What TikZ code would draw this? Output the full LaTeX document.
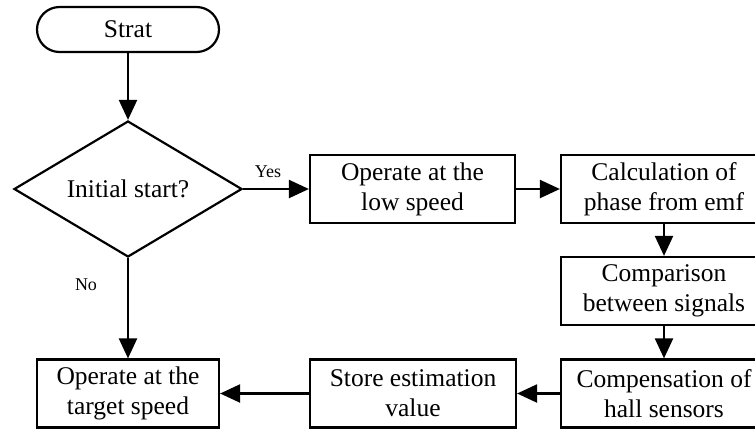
\documentclass[tikz,border=0pt]{standalone}
\usepackage{fontspec}
\setmainfont{Liberation Serif}
\usetikzlibrary{shapes.geometric,arrows.meta}
\tikzset{
  box/.style={draw, line width=2.2pt, minimum width=206pt, minimum height=68pt,
    inner sep=0pt, align=center, font=\fontsize{25.5}{30}\selectfont},
  narrowbox/.style={box, minimum width=182pt},
  pill/.style={draw, line width=2.2pt, rounded corners=22.5pt, minimum width=182pt,
    minimum height=45pt, inner sep=0pt, font=\fontsize{25.5}{30}\selectfont},
  decision/.style={draw, diamond, line width=2.2pt, minimum width=228pt,
    minimum height=136pt, inner sep=0pt, aspect=1.68, font=\fontsize{25.5}{30}\selectfont},
  flow/.style={line width=2.2pt, -{Triangle[width=18pt,length=20pt]}},
  tag/.style={font=\fontsize{18}{20}\selectfont, inner sep=0pt}
}
\begin{document}
\begin{tikzpicture}[x=1pt, y=-1pt]
\clip (0,0) rectangle (755,432);
\useasboundingbox (0,0) rectangle (755,432);

\node[pill] (start) at (128,29.5) {Strat};
\node[decision] (init) at (128,189) {Initial start?};
\node[box, minimum width=205pt] (low) at (412.5,189) {Operate at the\\low speed};
\node[box] (calc) at (664,189) {Calculation of\\phase from emf};
\node[box] (cmp) at (664,291) {Comparison\\between signals};
\node[box] (comp) at (664,393.5) {Compensation of\\hall sensors};
\node[box] (store) at (413,393.5) {Store estimation\\value};
\node[narrowbox] (target) at (128,393.5) {Operate at the\\target speed};

\draw[flow] (start) -- (init);
\draw[flow] (init.east) -- (low.west);
\draw[flow] (init.south) -- (target.north);
\draw[flow] (low.east) -- (calc.west);
\draw[flow] (calc.south) -- (cmp.north);
\draw[flow] (cmp.south) -- (comp.north);
\draw[flow] (comp.west) -- (store.east);
\draw[flow] (store.west) -- (target.east);

\node[tag] (yes) at (268,172) {Yes};
\node[tag] (no) at (86,285) {No};
\end{tikzpicture}
\end{document}
